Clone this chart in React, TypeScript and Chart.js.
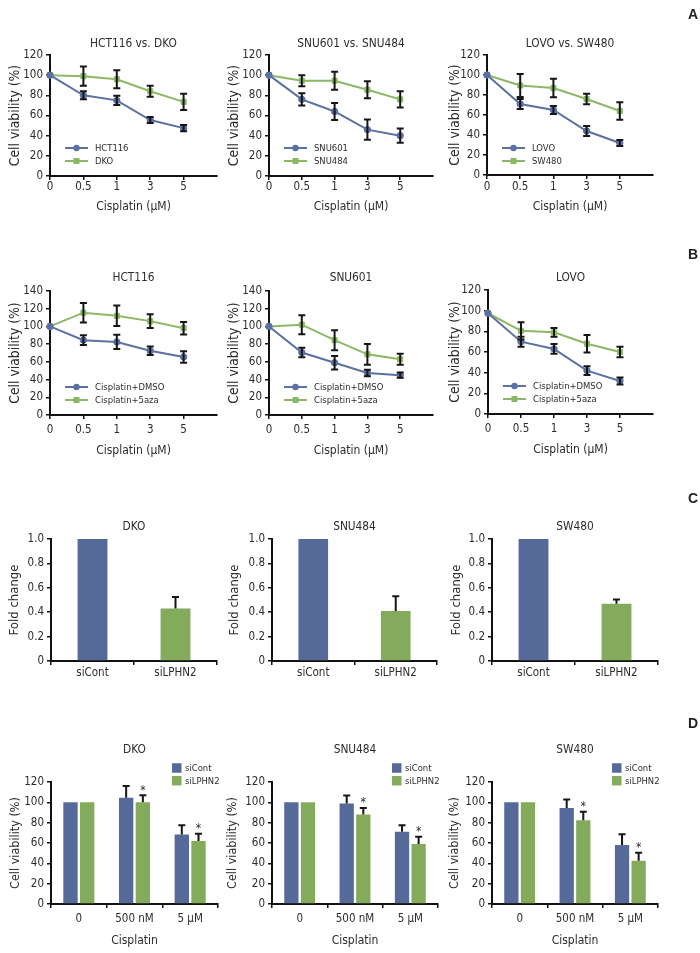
import React, { useEffect, useRef } from 'react';
import { Chart, registerables } from 'chart.js';

Chart.register(...registerables);

// ---------------- data ----------------
const doseLabels = ['0', '0.5', '1', '3', '5'];
const siLabels = ['siCont', 'siLPHN2'];
const doseLabelsD = ['0', '500 nM', '5 μM'];

// Panel A
const hct116Mean = [100, 80, 75, 55.5, 47.5];
const hct116Err = [0, 4, 4.5, 3, 3];
const dkoMean = [100, 99, 96, 84, 73.5];
const dkoErr = [0, 9.5, 9, 5.5, 8];
const snu601Mean = [100, 76, 64, 46, 40];
const snu601Err = [0, 6, 8.5, 10, 7];
const snu484Mean = [100, 94.5, 94.5, 85.5, 76];
const snu484Err = [0, 5.5, 9, 8.5, 8];
const lovoMean = [100, 71, 65, 44, 32];
const lovoErr = [0, 5, 4, 5, 3];
const sw480Mean = [100, 89.5, 87, 76, 64];
const sw480Err = [0, 11.5, 9.3, 5.3, 8.7];

// Panel B
const hctDmsoMean = [100, 84.5, 82.5, 72.5, 65.5];
const hctDmsoErr = [0, 5.5, 8, 4.7, 6.4];
const hct5azaMean = [100, 115.5, 112, 106, 98];
const hct5azaErr = [0, 11, 11.6, 7.7, 7];
const snuDmsoMean = [100, 70.5, 59, 47.5, 45];
const snuDmsoErr = [0, 5.4, 7.5, 3.7, 3];
const snu5azaMean = [100, 102, 84.5, 68.5, 63];
const snu5azaErr = [0, 10.7, 11.3, 11.8, 6.2];
const lovoDmsoMean = [97.5, 70, 63, 42, 32];
const lovoDmsoErr = [0, 4.8, 4.8, 4.3, 3.4];
const lovo5azaMean = [97.5, 80.5, 79, 68, 60];
const lovo5azaErr = [0, 8.4, 4.3, 8.4, 5.1];

// Panel C (fold change)
const dkoFold = [1.0, 0.43];
const dkoFoldErr = [0, 0.095];
const snu484Fold = [1.0, 0.41];
const snu484FoldErr = [0, 0.12];
const sw480Fold = [1.0, 0.47];
const sw480FoldErr = [0, 0.035];

// Panel D (viability, bars)
const dkoSiCont = [100, 104.5, 68.3];
const dkoSiContErr = [0, 11.5, 9.2];
const dkoSiLphn2 = [100, 100, 62];
const dkoSiLphn2Err = [0, 7, 7.2];
const snu484SiCont = [100, 98.8, 71];
const snu484SiContErr = [0, 8, 6.5];
const snu484SiLphn2 = [100, 88, 59];
const snu484SiLphn2Err = [0, 6.5, 7.2];
const sw480SiCont = [100, 94.5, 58];
const sw480SiContErr = [0, 8.2, 10.5];
const sw480SiLphn2 = [100, 82.5, 42.5];
const sw480SiLphn2Err = [0, 8.2, 7.8];
const sigStars = [false, true, true];

// ---------------- styles ----------------
const FONT = '"Liberation Sans Narrow", "DejaVu Sans Condensed", "Liberation Sans", Arial, sans-serif';
const TEXT = '#2c2c2c';
const AXIS = '#111111';
const LINE_BLUE = '#5b70a3';
const LINE_GREEN = '#8cb866';
const BAR_BLUE = '#566a9a';
const BAR_GREEN = '#84ab5b';
const TICK_SIZE = 11.5;
const TITLE_SIZE = 11.8;
const XTITLE_SIZE = 12;
const LEGEND_SIZE = 9.4;

function lineSeries(label: string, mean: number[], err: number[], color: string, style: string) {
  return {
    type: 'line',
    label,
    data: mean.map((y, i) => ({ x: i, y })),
    errors: err,
    borderColor: color,
    backgroundColor: color,
    borderWidth: 2,
    pointStyle: style,
    pointRadius: style === 'rect' ? 3.6 : 3.2,
    pointBorderWidth: 1,
    pointHoverRadius: 0,
    tension: 0,
    clip: false,
  };
}

function barSeries(label: string, values: number[], err: number[], color: string, catPct: number, barPct: number, stars?: boolean[]) {
  return {
    type: 'bar',
    label,
    data: values,
    errors: err,
    errorUpOnly: true,
    stars,
    backgroundColor: color,
    borderWidth: 0,
    categoryPercentage: catPct,
    barPercentage: barPct,
  };
}

const decorPlugin = {
  id: 'decor',
  afterDatasetsDraw(chart: any) {
    const { ctx, scales } = chart;
    const yScale = scales.y;
    chart.data.datasets.forEach((ds: any, di: number) => {
      if (!ds.errors) return;
      const meta = chart.getDatasetMeta(di);
      ctx.save();
      ctx.strokeStyle = '#161616';
      ctx.lineWidth = 2;
      meta.data.forEach((el: any, j: number) => {
        const raw = ds.data[j];
        const v = typeof raw === 'number' ? raw : raw.y;
        const err = ds.errors[j] || 0;
        const x = el.x;
        const cap = 3.5;
        const top = yScale.getPixelForValue(v + err);
        if (err > 0) {
          const bot = ds.errorUpOnly ? yScale.getPixelForValue(v) : yScale.getPixelForValue(v - err);
          ctx.beginPath();
          ctx.moveTo(x, top);
          ctx.lineTo(x, bot);
          ctx.moveTo(x - cap, top);
          ctx.lineTo(x + cap, top);
          if (!ds.errorUpOnly) {
            ctx.moveTo(x - cap, bot);
            ctx.lineTo(x + cap, bot);
          }
          ctx.stroke();
        }
        if (ds.stars && ds.stars[j]) {
          ctx.fillStyle = TEXT;
          ctx.font = `12px ${FONT}`;
          ctx.textAlign = 'center';
          ctx.textBaseline = 'alphabetic';
          ctx.fillText('*', x, top - 1.5);
        }
      });
      ctx.restore();
    });
  },
  afterDraw(chart: any, _args: any, opts: any) {
    const lg = opts && opts.legend;
    if (!lg) return;
    const { ctx, chartArea } = chart;
    ctx.save();
    ctx.font = `${lg.size}px ${FONT}`;
    ctx.textBaseline = 'middle';
    ctx.textAlign = 'left';
    chart.data.datasets.forEach((ds: any, i: number) => {
      const y = chartArea.top + lg.dy + i * lg.gap;
      if (lg.type === 'line') {
        const x0 = chartArea.left + lg.dx;
        const x1 = x0 + lg.len;
        const xm = (x0 + x1) / 2;
        ctx.strokeStyle = ds.borderColor;
        ctx.lineWidth = 2;
        ctx.beginPath();
        ctx.moveTo(x0, y);
        ctx.lineTo(x1, y);
        ctx.stroke();
        ctx.fillStyle = ds.borderColor;
        if (ds.pointStyle === 'rect') {
          ctx.fillRect(xm - 3, y - 3, 6, 6);
        } else {
          ctx.beginPath();
          ctx.arc(xm, y, 3.2, 0, Math.PI * 2);
          ctx.fill();
        }
        ctx.fillStyle = TEXT;
        ctx.fillText(ds.label, x1 + lg.textGap, y + 0.5);
      } else {
        const x0 = chartArea.right - lg.fromRight;
        const s = lg.box;
        ctx.fillStyle = ds.backgroundColor;
        ctx.fillRect(x0, y - s / 2, s, s);
        ctx.fillStyle = TEXT;
        ctx.fillText(ds.label, x0 + s + lg.textGap, y + 0.5);
      }
    });
    ctx.restore();
  },
};

type Box = { x: number; y: number; w: number; h: number };
type Area = { L: number; T: number; R: number; B: number };

interface Spec {
  kind: 'line' | 'bar';
  title: string;
  box: Box;
  area: Area;
  titleY: number;
  tickY: number;
  xTitleY: number;
  yTitleX: number;
  yTitle: string;
  yTitleSize: number;
  xTitle: string;
  labels: string[];
  yMax: number;
  yStep: number;
  yDecimals: number;
  datasets: any[];
  legend: any;
}

function makeConfig(spec: Spec): any {
  const { box, area } = spec;
  const titleLH = TITLE_SIZE * 1.2;
  const yTitleLH = spec.yTitleSize * 1.2;
  const xTitleLH = XTITLE_SIZE * 1.2;
  const tickLen = 4;
  const yAxisWidth = area.L - box.x;
  const xAxisHeight = box.y + box.h - area.B;
  const xTickPad = spec.tickY - area.B - tickLen - TICK_SIZE / 2;
  const isLine = spec.kind === 'line';

  const gridCommon = {
    display: true,
    drawOnChartArea: false,
    drawTicks: true,
    tickLength: tickLen,
    color: AXIS,
    lineWidth: 1.5,
  };
  const borderCommon = { display: true, color: AXIS, width: 2 };
  const tickFont = { family: FONT, size: TICK_SIZE, lineHeight: 1 };

  const xScale: any = {
    grid: { ...gridCommon, offset: !isLine },
    border: borderCommon,
    ticks: {
      font: tickFont,
      color: TEXT,
      padding: xTickPad,
      maxRotation: 0,
      autoSkip: false,
    },
    title: {
      display: !!spec.xTitle,
      text: spec.xTitle,
      font: { family: FONT, size: XTITLE_SIZE, lineHeight: 1.2 },
      color: TEXT,
      padding: { top: 0, bottom: box.y + box.h - spec.xTitleY - xTitleLH / 2 },
    },
    afterFit: (s: any) => {
      s.height = xAxisHeight;
    },
  };
  if (isLine) {
    Object.assign(xScale, {
      type: 'linear',
      min: 0,
      max: spec.labels.length,
      afterBuildTicks: (axis: any) => {
        axis.ticks = spec.labels.map((_: string, i: number) => ({ value: i }));
      },
    });
    xScale.ticks.callback = (v: number) => spec.labels[v] ?? '';
  } else {
    Object.assign(xScale, { type: 'category', offset: true });
  }

  const yScale: any = {
    type: 'linear',
    min: 0,
    max: spec.yMax,
    grid: gridCommon,
    border: borderCommon,
    ticks: {
      stepSize: spec.yStep,
      font: tickFont,
      color: TEXT,
      padding: 3,
      callback: (v: number) => (v === 0 ? '0' : spec.yDecimals ? v.toFixed(spec.yDecimals) : String(Math.round(v))),
    },
    title: {
      display: true,
      text: spec.yTitle,
      font: { family: FONT, size: spec.yTitleSize, lineHeight: 1.2 },
      color: TEXT,
      padding: { top: spec.yTitleX - box.x - yTitleLH / 2, bottom: 0 },
    },
    afterFit: (s: any) => {
      s.width = yAxisWidth;
    },
  };

  return {
    type: isLine ? 'line' : 'bar',
    data: {
      labels: isLine ? undefined : spec.labels,
      datasets: spec.datasets,
    },
    options: {
      responsive: false,
      maintainAspectRatio: false,
      animation: false,
      events: [],
      layout: { padding: { left: 0, top: 0, right: box.x + box.w - area.R, bottom: 0 } },
      scales: { x: xScale, y: yScale },
      plugins: {
        legend: { display: false },
        tooltip: { enabled: false },
        title: {
          display: true,
          text: spec.title,
          fullSize: false,
          align: 'center',
          color: TEXT,
          font: { family: FONT, size: TITLE_SIZE, weight: 'normal', lineHeight: 1.2 },
          padding: { top: spec.titleY - box.y - titleLH / 2, bottom: area.T - spec.titleY - titleLH / 2 },
        },
        decor: { legend: spec.legend },
      },
    },
    plugins: [decorPlugin],
  };
}

// ---------------- layout ----------------
const lineLegendA = { type: 'line', dx: 15, dy: 93, gap: 13, len: 23, textGap: 7, size: LEGEND_SIZE };
const lineLegendB = { type: 'line', dx: 15, dy: 96, gap: 13, len: 23, textGap: 7, size: LEGEND_SIZE };
const boxLegendD = { type: 'box', fromRight: 46, dy: -14, gap: 12.7, box: 9.5, textGap: 3.5, size: LEGEND_SIZE };

const VIAB = 'Cell viability (%)';
const XT = 'Cisplatin (μM)';
const YT_AB = 13.8;
const YT_C = 13;
const YT_D = 12.5;

const specs: Spec[] = [
  // Row A
  {
    kind: 'line', title: 'HCT116 vs. DKO',
    box: { x: 0, y: 28, w: 235, h: 200 }, area: { L: 50, T: 55, R: 217, B: 176 },
    titleY: 44, tickY: 187, xTitleY: 207, yTitleX: 15, yTitle: VIAB, yTitleSize: YT_AB, xTitle: XT,
    labels: doseLabels, yMax: 120, yStep: 20, yDecimals: 0, legend: lineLegendA,
    datasets: [lineSeries('HCT116', hct116Mean, hct116Err, LINE_BLUE, 'circle'), lineSeries('DKO', dkoMean, dkoErr, LINE_GREEN, 'rect')],
  },
  {
    kind: 'line', title: 'SNU601 vs. SNU484',
    box: { x: 222, y: 28, w: 235, h: 200 }, area: { L: 269, T: 55, R: 433, B: 176 },
    titleY: 44, tickY: 187, xTitleY: 207, yTitleX: 234, yTitle: VIAB, yTitleSize: YT_AB, xTitle: XT,
    labels: doseLabels, yMax: 120, yStep: 20, yDecimals: 0, legend: lineLegendA,
    datasets: [lineSeries('SNU601', snu601Mean, snu601Err, LINE_BLUE, 'circle'), lineSeries('SNU484', snu484Mean, snu484Err, LINE_GREEN, 'rect')],
  },
  {
    kind: 'line', title: 'LOVO vs. SW480',
    box: { x: 440, y: 28, w: 250, h: 200 }, area: { L: 487, T: 55, R: 653, B: 175 },
    titleY: 44, tickY: 187, xTitleY: 207, yTitleX: 455, yTitle: VIAB, yTitleSize: YT_AB, xTitle: XT,
    labels: doseLabels, yMax: 120, yStep: 20, yDecimals: 0, legend: lineLegendA,
    datasets: [lineSeries('LOVO', lovoMean, lovoErr, LINE_BLUE, 'circle'), lineSeries('SW480', sw480Mean, sw480Err, LINE_GREEN, 'rect')],
  },
  // Row B
  {
    kind: 'line', title: 'HCT116',
    box: { x: 0, y: 262, w: 235, h: 200 }, area: { L: 50, T: 291, R: 217, B: 415 },
    titleY: 278, tickY: 430, xTitleY: 451, yTitleX: 15, yTitle: VIAB, yTitleSize: YT_AB, xTitle: XT,
    labels: doseLabels, yMax: 140, yStep: 20, yDecimals: 0, legend: lineLegendB,
    datasets: [lineSeries('Cisplatin+DMSO', hctDmsoMean, hctDmsoErr, LINE_BLUE, 'circle'), lineSeries('Cisplatin+5aza', hct5azaMean, hct5azaErr, LINE_GREEN, 'rect')],
  },
  {
    kind: 'line', title: 'SNU601',
    box: { x: 222, y: 262, w: 235, h: 200 }, area: { L: 269, T: 291, R: 433, B: 415 },
    titleY: 278, tickY: 430, xTitleY: 451, yTitleX: 234, yTitle: VIAB, yTitleSize: YT_AB, xTitle: XT,
    labels: doseLabels, yMax: 140, yStep: 20, yDecimals: 0, legend: lineLegendB,
    datasets: [lineSeries('Cisplatin+DMSO', snuDmsoMean, snuDmsoErr, LINE_BLUE, 'circle'), lineSeries('Cisplatin+5aza', snu5azaMean, snu5azaErr, LINE_GREEN, 'rect')],
  },
  {
    kind: 'line', title: 'LOVO',
    box: { x: 440, y: 262, w: 250, h: 200 }, area: { L: 488, T: 290, R: 653, B: 414 },
    titleY: 278, tickY: 429, xTitleY: 450, yTitleX: 455, yTitle: VIAB, yTitleSize: YT_AB, xTitle: XT,
    labels: doseLabels, yMax: 120, yStep: 20, yDecimals: 0, legend: lineLegendB,
    datasets: [lineSeries('Cisplatin+DMSO', lovoDmsoMean, lovoDmsoErr, LINE_BLUE, 'circle'), lineSeries('Cisplatin+5aza', lovo5azaMean, lovo5azaErr, LINE_GREEN, 'rect')],
  },
  // Row C
  {
    kind: 'bar', title: 'DKO',
    box: { x: 0, y: 508, w: 235, h: 180 }, area: { L: 51, T: 539, R: 217, B: 661 },
    titleY: 527, tickY: 673, xTitleY: 0, yTitleX: 15, yTitle: 'Fold change', yTitleSize: YT_C, xTitle: '',
    labels: siLabels, yMax: 1, yStep: 0.2, yDecimals: 1, legend: null,
    datasets: [{ ...barSeries('fold', dkoFold, dkoFoldErr, BAR_BLUE, 1, 0.36), backgroundColor: [BAR_BLUE, BAR_GREEN] }],
  },
  {
    kind: 'bar', title: 'SNU484',
    box: { x: 222, y: 508, w: 235, h: 180 }, area: { L: 272, T: 539, R: 437, B: 661 },
    titleY: 527, tickY: 673, xTitleY: 0, yTitleX: 235, yTitle: 'Fold change', yTitleSize: YT_C, xTitle: '',
    labels: siLabels, yMax: 1, yStep: 0.2, yDecimals: 1, legend: null,
    datasets: [{ ...barSeries('fold', snu484Fold, snu484FoldErr, BAR_BLUE, 1, 0.36), backgroundColor: [BAR_BLUE, BAR_GREEN] }],
  },
  {
    kind: 'bar', title: 'SW480',
    box: { x: 440, y: 508, w: 250, h: 180 }, area: { L: 492, T: 539, R: 658, B: 661 },
    titleY: 527, tickY: 673, xTitleY: 0, yTitleX: 457, yTitle: 'Fold change', yTitleSize: YT_C, xTitle: '',
    labels: siLabels, yMax: 1, yStep: 0.2, yDecimals: 1, legend: null,
    datasets: [{ ...barSeries('fold', sw480Fold, sw480FoldErr, BAR_BLUE, 1, 0.36), backgroundColor: [BAR_BLUE, BAR_GREEN] }],
  },
  // Row D
  {
    kind: 'bar', title: 'DKO',
    box: { x: 0, y: 735, w: 235, h: 215 }, area: { L: 51, T: 782, R: 218, B: 904 },
    titleY: 750, tickY: 919, xTitleY: 941, yTitleX: 16, yTitle: VIAB, yTitleSize: YT_D, xTitle: 'Cisplatin',
    labels: doseLabelsD, yMax: 120, yStep: 20, yDecimals: 0, legend: boxLegendD,
    datasets: [
      barSeries('siCont', dkoSiCont, dkoSiContErr, BAR_BLUE, 0.6, 0.86),
      barSeries('siLPHN2', dkoSiLphn2, dkoSiLphn2Err, BAR_GREEN, 0.6, 0.86, sigStars),
    ],
  },
  {
    kind: 'bar', title: 'SNU484',
    box: { x: 222, y: 735, w: 235, h: 215 }, area: { L: 272, T: 782, R: 438, B: 904 },
    titleY: 750, tickY: 919, xTitleY: 941, yTitleX: 233, yTitle: VIAB, yTitleSize: YT_D, xTitle: 'Cisplatin',
    labels: doseLabelsD, yMax: 120, yStep: 20, yDecimals: 0, legend: boxLegendD,
    datasets: [
      barSeries('siCont', snu484SiCont, snu484SiContErr, BAR_BLUE, 0.6, 0.86),
      barSeries('siLPHN2', snu484SiLphn2, snu484SiLphn2Err, BAR_GREEN, 0.6, 0.86, sigStars),
    ],
  },
  {
    kind: 'bar', title: 'SW480',
    box: { x: 440, y: 735, w: 250, h: 215 }, area: { L: 492, T: 782, R: 658, B: 904 },
    titleY: 750, tickY: 919, xTitleY: 941, yTitleX: 455, yTitle: VIAB, yTitleSize: YT_D, xTitle: 'Cisplatin',
    labels: doseLabelsD, yMax: 120, yStep: 20, yDecimals: 0, legend: boxLegendD,
    datasets: [
      barSeries('siCont', sw480SiCont, sw480SiContErr, BAR_BLUE, 0.6, 0.86),
      barSeries('siLPHN2', sw480SiLphn2, sw480SiLphn2Err, BAR_GREEN, 0.6, 0.86, sigStars),
    ],
  },
];

const panelLetters = [
  { t: 'A', y: 7 },
  { t: 'B', y: 247 },
  { t: 'C', y: 491 },
  { t: 'D', y: 716 },
];

function ChartCanvas({ spec }: { spec: Spec }) {
  const ref = useRef<HTMLCanvasElement | null>(null);
  useEffect(() => {
    if (!ref.current) return;
    const chart = new Chart(ref.current, makeConfig(spec));
    return () => chart.destroy();
  }, [spec]);
  const b = spec.box;
  return (
    <canvas
      ref={ref}
      width={b.w}
      height={b.h}
      style={{ position: 'absolute', left: b.x, top: b.y, width: b.w, height: b.h, display: 'block' }}
    />
  );
}

export default function App() {
  return (
    <div style={{ position: 'absolute', left: 0, top: 0, width: 700, height: 953, background: '#ffffff', overflow: 'hidden' }}>
      {specs.map((s, i) => (
        <ChartCanvas key={i} spec={s} />
      ))}
      {panelLetters.map((p) => (
        <div
          key={p.t}
          style={{
            position: 'absolute',
            left: 688,
            top: p.y,
            fontFamily: '"Liberation Sans", Arial, sans-serif',
            fontWeight: 'bold',
            fontSize: 14,
            lineHeight: '14px',
            color: '#222',
          }}
        >
          {p.t}
        </div>
      ))}
    </div>
  );
}
